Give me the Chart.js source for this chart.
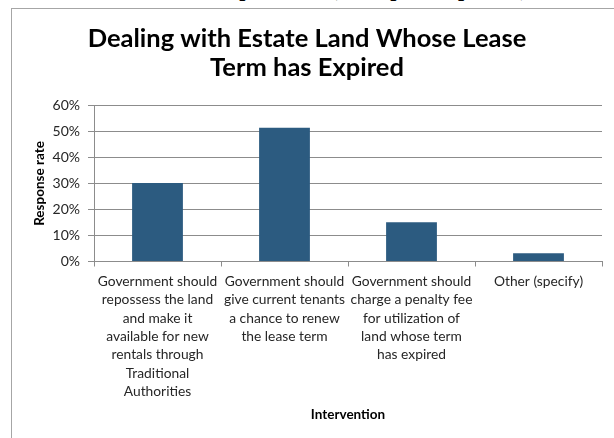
<!DOCTYPE html>
<html>
<head>
<meta charset="utf-8">
<script src="https://cdn.jsdelivr.net/npm/chart.js@4.4.1/dist/chart.umd.min.js"></script>
<style>
  html, body { margin: 0; padding: 0; width: 614px; height: 438px; overflow: hidden; background: #fff; }
  #cut { position: absolute; left: 205px; top: -22px; font: bold 22px/22px "Liberation Serif", serif; color: #000; white-space: nowrap; }
  #frame { position: absolute; left: 11px; top: 8px; width: 640px; height: 440px; border-left: 1px solid #a6a6a6; border-top: 1px solid #a6a6a6; background: #fff; }
  #c { position: absolute; left: 0; top: 0; }
</style>
</head>
<body>
<div id="cut">Respondents (Multiple Responses)</div>
<div id="frame"><canvas id="c" width="614" height="429"></canvas></div>
<script>
const titleLines = ["Dealing with Estate Land Whose Lease", "Term has Expired"];
const categories = [
  ["Government should", "repossess the land", "and make it", "available for new", "rentals through", "Traditional", "Authorities"],
  ["Government should", "give current tenants", "a chance to renew", "the lease term"],
  ["Government should", "charge a penalty fee", "for utilization of", "land whose term", "has expired"],
  ["Other (specify)"]
];
const responseRate = [30.2, 51.4, 15.1, 3.2];
const yTickMax = 60;
const yTickStep = 10;
const yAxisTitle = "Response rate";
const xAxisTitle = "Intervention";

const barColor = '#2c5b80';
const gridColor = '#8c8c8c';
const textColor = '#262626';

new Chart(document.getElementById('c'), {
  type: 'bar',
  data: {
    labels: categories,
    datasets: [{
      data: responseRate,
      backgroundColor: barColor,
      borderWidth: 0,
      categoryPercentage: 0.4,
      barPercentage: 1.0
    }]
  },
  options: {
    responsive: false,
    animation: false,
    devicePixelRatio: 1,
    layout: { padding: { left: 0, right: 24, top: 0, bottom: 0 } },
    plugins: {
      legend: { display: false },
      tooltip: { enabled: false },
      title: {
        display: true,
        text: titleLines,
        color: '#000',
        font: { family: 'Lato', weight: 'bold', size: 25.5, lineHeight: 29 / 25.5 },
        padding: { top: 15, bottom: 23.5 }
      }
    },
    scales: {
      x: {
        grid: { offset: true, drawOnChartArea: false, drawTicks: true, tickLength: 5, color: gridColor },
        border: { display: true, color: gridColor, width: 1 },
        ticks: {
          color: textColor, autoSkip: false, maxRotation: 0, minRotation: 0, padding: 6,
          font: { family: 'Lato', size: 13.8, lineHeight: 18.3 / 13.8 }
        },
        title: {
          display: true, text: xAxisTitle, color: '#000',
          font: { family: 'Lato', weight: 'bold', size: 13.5, lineHeight: 1.2 },
          padding: { top: 0, bottom: 15 }
        },
        afterFit: (s) => { s.height = 176.5; }
      },
      y: {
        min: 0, max: yTickMax,
        grid: { color: gridColor, drawTicks: true, tickLength: 6 },
        border: { display: true, color: gridColor, width: 1 },
        ticks: {
          stepSize: yTickStep, color: textColor, padding: 8,
          font: { family: 'Lato', size: 14 },
          callback: (v) => v + '%'
        },
        title: {
          display: true, text: yAxisTitle, color: '#000',
          font: { family: 'Lato', weight: 'bold', size: 13.5, lineHeight: 1.2 },
          padding: { top: 20, bottom: 0 }
        },
        afterFit: (s) => { s.width = 82; }
      }
    }
  }
});
</script>
</body>
</html>
